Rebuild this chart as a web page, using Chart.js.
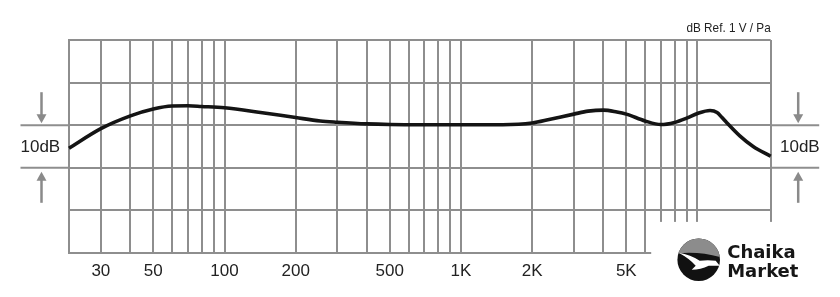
<!DOCTYPE html>
<html>
<head>
<meta charset="utf-8">
<script src="https://cdn.jsdelivr.net/npm/chart.js@4/dist/chart.umd.min.js"></script>
<style>
html,body{margin:0;padding:0;background:#fff;}
#wrap{width:840px;height:297px;}
</style>
</head>
<body>
<div id="wrap"><canvas id="c" width="840" height="297"></canvas></div>
<script>
// ---- data ----
const freqs = [22, 30, 40, 50, 60, 70, 80, 100, 142, 200, 254, 300, 400, 500, 700, 1000, 1500, 2000, 2385, 3000, 3450, 4000, 4560, 5000, 6000, 7000, 8000, 9000, 10000, 11300, 12100, 12700, 13300, 15100, 17200, 20400];
const response = [-5.4, -0.8, 2.2, 3.8, 4.5, 4.55, 4.4, 4.1, 3.0, 1.8, 1.0, 0.7, 0.3, 0.15, 0.1, 0.1, 0.1, 0.5, 1.4, 2.6, 3.3, 3.55, 3.1, 2.6, 1.0, 0.15, 0.65, 1.65, 2.75, 3.45, 3.0, 1.8, 0.6, -2.5, -5.0, -7.3];
const gridFreqs = [30, 40, 50, 60, 70, 80, 90, 100, 200, 300, 400, 500, 600, 700, 800, 900, 1000, 2000, 3000, 4000, 5000, 6000, 7000, 8000, 9000, 10000];
const labelFreqs = [30, 50, 100, 200, 500, 1000, 2000, 5000];
const labelTexts = ['30', '50', '100', '200', '500', '1K', '2K', '5K'];
const freqMin = 22, freqMax = 20400;
const dbMin = -30, dbMax = 20, dbStep = 10;
const refLabel = 'dB Ref. 1 V / Pa';
const spanLabel = '10dB';
const brandLines = ['Chaika', 'Market'];

const GRID = '#8e8e8e';
const TEXT = '#222';

function arrow(ctx, x, yFrom, yTo) {
  const dir = Math.sign(yTo - yFrom);
  ctx.strokeStyle = '#8a8a8a';
  ctx.fillStyle = '#8a8a8a';
  ctx.lineWidth = 2.5;
  ctx.beginPath();
  ctx.moveTo(x, yFrom);
  ctx.lineTo(x, yTo - dir * 7);
  ctx.stroke();
  ctx.beginPath();
  ctx.moveTo(x, yTo);
  ctx.lineTo(x - 5, yTo - dir * 9);
  ctx.lineTo(x + 5, yTo - dir * 9);
  ctx.closePath();
  ctx.fill();
}

const extras = {
  id: 'extras',
  afterDraw(chart) {
    const { ctx, chartArea: a, scales: { x, y } } = chart;
    const y0 = y.getPixelForValue(0), y1 = y.getPixelForValue(-10);
    ctx.save();
    // white area over lower right grid (logo space)
    ctx.fillStyle = '#fff';
    ctx.fillRect(a.right - 119.5, y.getPixelForValue(-22.7), 140, 40);

    // extended reference lines
    ctx.strokeStyle = GRID;
    ctx.lineWidth = 2;
    [y0, y1].forEach(yy => {
      ctx.beginPath(); ctx.moveTo(a.left - 48.5, yy); ctx.lineTo(a.left, yy); ctx.stroke();
      ctx.beginPath(); ctx.moveTo(a.right, yy); ctx.lineTo(a.right + 48.5, yy); ctx.stroke();
    });
    // arrows
    const lx = a.left - 27.5, rx = a.right + 27.5;
    arrow(ctx, lx, y0 - 33, y0 - 2);
    arrow(ctx, lx, y1 + 35, y1 + 4);
    arrow(ctx, rx, y0 - 33, y0 - 2);
    arrow(ctx, rx, y1 + 35, y1 + 4);

    // 10dB labels
    ctx.fillStyle = TEXT;
    ctx.font = '17px "Liberation Sans", Arial, sans-serif';
    ctx.textBaseline = 'middle';
    ctx.textAlign = 'left';
    ctx.fillText(spanLabel, a.left - 48.5, (y0 + y1) / 2 + 1);
    ctx.textAlign = 'right';
    ctx.fillText(spanLabel, a.right + 49, (y0 + y1) / 2 + 1);

    // reference label (slightly condensed)
    ctx.save();
    ctx.font = '13.5px "Liberation Sans", Arial, sans-serif';
    ctx.textBaseline = 'alphabetic';
    ctx.textAlign = 'right';
    ctx.translate(a.right, a.top - 8);
    ctx.scale(0.87, 1);
    ctx.fillText(refLabel, 0, 0);
    ctx.restore();

    // logo
    const cx = a.right - 72, cy = a.bottom + 6.7, r = 21.3;
    ctx.save();
    ctx.beginPath(); ctx.arc(cx, cy, r, 0, Math.PI * 2); ctx.closePath();
    ctx.fillStyle = '#111'; ctx.fill();
    ctx.clip();
    ctx.fillStyle = '#8c8c8c';
    ctx.beginPath();
    ctx.moveTo(cx - r - 2, cy - r - 2);
    ctx.lineTo(cx + r + 2, cy - r - 2);
    ctx.lineTo(cx + r + 2, cy - 2);
    ctx.quadraticCurveTo(cx, cy - 9, cx - r - 2, cy - 6);
    ctx.closePath(); ctx.fill();
    // white gull
    ctx.fillStyle = '#fff';
    ctx.beginPath();
    ctx.moveTo(cx - 20, cy - 7);
    ctx.quadraticCurveTo(cx - 8, cy - 5, cx + 1, cy + 1);
    ctx.quadraticCurveTo(cx + 9, cy + 0, cx + 17, cy + 1);
    ctx.lineTo(cx + 21, cy + 6);
    ctx.lineTo(cx + 10, cy + 6);
    ctx.quadraticCurveTo(cx + 2, cy + 10, cx - 7, cy + 10);
    ctx.lineTo(cx - 3, cy + 6);
    ctx.quadraticCurveTo(cx - 9, cy - 1, cx - 20, cy - 7);
    ctx.closePath(); ctx.fill();
    ctx.restore();

    ctx.fillStyle = '#161616';
    ctx.font = 'bold 18px "DejaVu Sans", sans-serif';
    ctx.textAlign = 'left';
    ctx.textBaseline = 'alphabetic';
    ctx.fillText(brandLines[0], a.right - 43.5, a.bottom + 5.3);
    ctx.fillText(brandLines[1], a.right - 43.5, a.bottom + 23.7);
    ctx.restore();
  }
};

new Chart(document.getElementById('c'), {
  type: 'line',
  data: {
    datasets: [{
      data: freqs.map((f, i) => ({ x: f, y: response[i] })),
      borderColor: '#141414',
      borderWidth: 3.6,
      pointRadius: 0,
      cubicInterpolationMode: 'monotone',
      fill: false,
      clip: false
    }]
  },
  options: {
    responsive: false,
    animation: false,
    devicePixelRatio: 1,
    layout: { padding: { left: 69, right: 69.3, top: 40, bottom: 0 } },
    plugins: { legend: { display: false }, tooltip: { enabled: false }, title: { display: false } },
    scales: {
      x: {
        type: 'logarithmic',
        min: freqMin,
        max: freqMax,
        afterBuildTicks(scale) {
          scale.ticks = [freqMin, ...gridFreqs, freqMax].map(v => ({ value: v }));
        },
        afterFit(scale) { scale.height = 44; },
        grid: { color: GRID, lineWidth: 2, drawTicks: false },
        border: { display: true, color: GRID, width: 2 },
        ticks: {
          autoSkip: false,
          maxRotation: 0,
          minRotation: 0,
          padding: 8,
          color: TEXT,
          font: { family: '"Liberation Sans", Arial, sans-serif', size: 17 },
          callback(value) {
            const i = labelFreqs.indexOf(value);
            return i >= 0 ? labelTexts[i] : '';
          }
        }
      },
      y: {
        type: 'linear',
        min: dbMin,
        max: dbMax,
        afterFit(scale) { scale.width = 0; },
        grid: { color: GRID, lineWidth: 2, drawTicks: false },
        border: { display: true, color: GRID, width: 2 },
        ticks: { display: false, stepSize: dbStep }
      }
    }
  },
  plugins: [extras]
});
</script>
</body>
</html>
